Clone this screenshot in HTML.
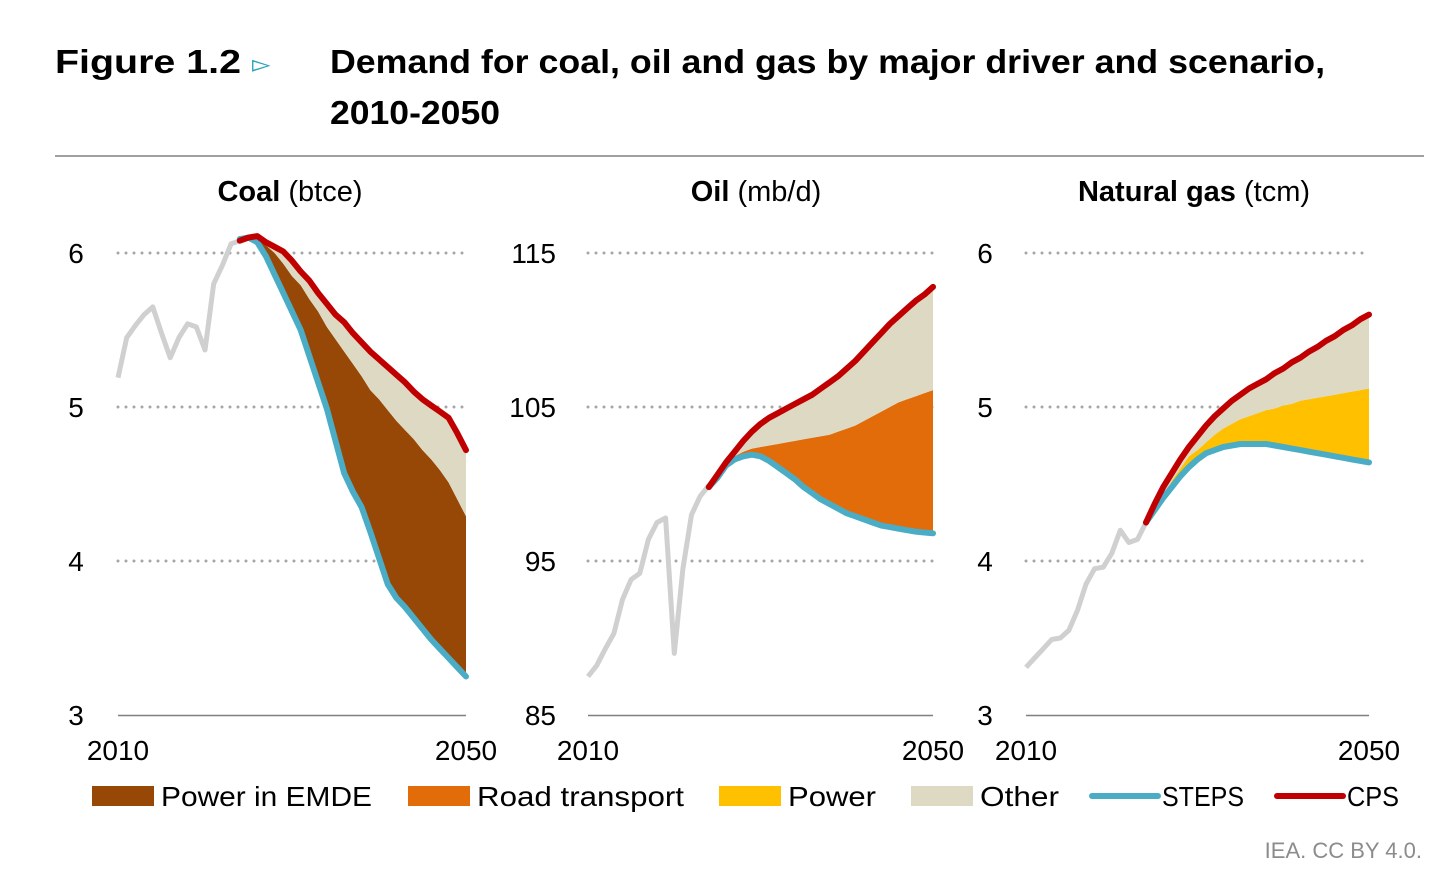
<!DOCTYPE html>
<html><head><meta charset="utf-8"><style>
html,body{margin:0;padding:0;background:#fff;}
svg{display:block;font-family:"Liberation Sans",sans-serif;}
</style></head><body>
<svg id="chart" width="1456" height="889" viewBox="0 0 1456 889">
<text x="55" y="73" font-size="33" font-weight="bold" fill="#000" textLength="186" lengthAdjust="spacingAndGlyphs">Figure 1.2</text>
<text x="252" y="72" font-size="24" fill="#2aa3b8">▻</text>
<text x="330" y="73" font-size="33" font-weight="bold" fill="#000" textLength="995" lengthAdjust="spacingAndGlyphs">Demand for coal, oil and gas by major driver and scenario,</text>
<text x="330" y="124" font-size="33" font-weight="bold" fill="#000" textLength="170" lengthAdjust="spacingAndGlyphs">2010-2050</text>
<line x1="55" y1="156" x2="1424" y2="156" stroke="#808080" stroke-width="1.5"/>
<g id="panels"></g>
<g id="legend"></g>
<text x="1422" y="858" font-size="22" fill="#8c8c8c" text-anchor="end">IEA. CC BY 4.0.</text>
</svg>
<script>
// ---- Data ----
const histYears = [2010,2011,2012,2013,2014,2015,2016,2017,2018,2019,2020,2021,2022,2023,2024];
const projYears = [2024,2025,2026,2027,2028,2029,2030,2031,2032,2033,2034,2035,2036,2037,2038,2039,2040,2041,2042,2043,2044,2045,2046,2047,2048,2049,2050];

const coalHist = [5.19,5.45,5.53,5.60,5.65,5.48,5.32,5.45,5.54,5.52,5.37,5.80,5.92,6.06,6.08];
const coalSteps = [6.09,6.10,6.07,5.98,5.86,5.74,5.62,5.50,5.33,5.16,4.99,4.78,4.57,4.45,4.35,4.19,4.02,3.85,3.76,3.70,3.63,3.56,3.49,3.43,3.37,3.31,3.25];
const coalPowerEmdeTop = [6.09,6.10,6.09,6.05,6.00,5.93,5.85,5.79,5.70,5.62,5.52,5.44,5.36,5.28,5.20,5.11,5.05,4.98,4.91,4.85,4.79,4.72,4.66,4.59,4.51,4.40,4.29];
const coalCps = [6.08,6.10,6.11,6.07,6.04,6.01,5.95,5.88,5.82,5.74,5.67,5.60,5.55,5.48,5.42,5.36,5.31,5.26,5.21,5.16,5.10,5.05,5.01,4.97,4.93,4.83,4.72];

const oilHist = [87.5,88.2,89.3,90.3,92.5,93.8,94.2,96.4,97.5,97.8,89.0,94.5,98.0,99.2,99.9];
const oilSteps = [99.8,100.4,101.2,101.6,101.8,101.9,101.8,101.5,101.1,100.7,100.3,99.8,99.4,99.0,98.7,98.4,98.1,97.9,97.7,97.5,97.3,97.2,97.1,97.0,96.9,96.85,96.8];
const oilRoadTop = [99.8,100.4,101.2,101.8,102.1,102.3,102.4,102.5,102.6,102.7,102.8,102.9,103.0,103.1,103.2,103.4,103.6,103.8,104.1,104.4,104.7,105.0,105.3,105.5,105.7,105.9,106.1];
const oilCps = [99.8,100.6,101.4,102.1,102.8,103.4,103.9,104.3,104.6,104.9,105.2,105.5,105.8,106.2,106.6,107.0,107.5,108.0,108.6,109.2,109.8,110.4,110.9,111.4,111.9,112.3,112.8];

const gasHist = [3.31,3.37,3.43,3.49,3.50,3.55,3.68,3.85,3.95,3.96,4.05,4.20,4.12,4.14,4.25];
const gasSteps = [4.25,4.33,4.41,4.48,4.55,4.61,4.66,4.70,4.72,4.74,4.75,4.76,4.76,4.76,4.76,4.75,4.74,4.73,4.72,4.71,4.70,4.69,4.68,4.67,4.66,4.65,4.64];
const gasPowerTop = [4.25,4.33,4.41,4.52,4.60,4.68,4.72,4.77,4.82,4.86,4.89,4.92,4.94,4.96,4.98,4.99,5.01,5.02,5.04,5.05,5.06,5.07,5.08,5.09,5.10,5.11,5.12];
const gasCps = [4.25,4.37,4.48,4.57,4.66,4.74,4.81,4.88,4.94,4.99,5.04,5.08,5.12,5.15,5.18,5.22,5.25,5.29,5.32,5.36,5.39,5.43,5.46,5.50,5.53,5.57,5.60];

const coalTicks = [3,4,5,6];
const oilTicks = [85,95,105,115];
const gasTicks = [3,4,5,6];
const xTickLabels = ["2010","2050"];

const legendLabels = ["Power in EMDE","Road transport","Power","Other","STEPS","CPS"];

// ---- Drawing ----
const NS = "http://www.w3.org/2000/svg";
function mk(tag, attrs, parent){
  const e = document.createElementNS(NS, tag);
  for (const k in attrs) e.setAttribute(k, attrs[k]);
  parent.appendChild(e);
  return e;
}
const panelsG = document.getElementById('panels');

function drawPanel(p){
  const g = mk('g', {}, panelsG);
  
  
  const x = yr => p.x0 + (yr - 2010) / 40 * (p.x1 - p.x0);
  const y = v => 715 - (v - p.ticks[0]) / (p.ticks[3] - p.ticks[0]) * 462;

  const t = mk('text', {x: p.titleX, y: 201, 'font-size': 29, 'text-anchor': 'middle', fill: '#000'}, g);
  
  
  const b = mk('tspan', {'font-weight': 'bold'}, t); b.textContent = p.titleBold;
  const r = mk('tspan', {}, t); r.textContent = ' ' + p.titleUnit;

  p.ticks.forEach((v, i) => {
    if (i > 0) {
      const gl = mk('line', {x1: p.x0, x2: p.x1, y1: y(v), y2: y(v), stroke: '#a6a6a6', 'stroke-width': 3, 'stroke-dasharray': '0 8', 'stroke-linecap': 'round'}, g);
      
      
    }
    const tl = mk('text', {x: p.tickX, y: y(v) + 10, 'font-size': 28, 'text-anchor': p.tickAnchor, fill: '#000'}, g);
    
    
    tl.textContent = v;
  });
  const ax = mk('line', {x1: p.x0, x2: p.x1, y1: 715.5, y2: 715.5, stroke: '#7f7f7f', 'stroke-width': 1.5}, g);
  
  
  xTickLabels.forEach((lab, i) => {
    const xl = mk('text', {x: i === 0 ? p.x0 : p.x1, y: 760, 'font-size': 28, 'text-anchor': 'middle', fill: '#000'}, g);
    
    
    xl.textContent = lab;
  });

  const pts = (ys, vals) => ys.map((yr, i) => x(yr).toFixed(1) + ',' + y(vals[i]).toFixed(1));
  const band = (lower, upper) => 'M' + pts(projYears, upper).join('L') + 'L' + pts(projYears.slice().reverse(), lower.slice().reverse()).join('L') + 'Z';

  const a1 = mk('path', {d: band(p.steps, p.mid), fill: p.midColor}, g);
  
  
  const a2 = mk('path', {d: band(p.mid, p.cps), fill: '#DDD9C3'}, g);
  
  

  const h = mk('polyline', {points: pts(histYears, p.hist).join(' '), fill: 'none', stroke: '#D0D0D0', 'stroke-width': 5, 'stroke-linejoin': 'round'}, g);
  
  
  const s = mk('polyline', {points: pts(projYears, p.steps).join(' '), fill: 'none', stroke: '#4BACC6', 'stroke-width': 6, 'stroke-linejoin': 'round', 'stroke-linecap': 'round'}, g);
  
  
  const c = mk('polyline', {points: pts(projYears, p.cps).join(' '), fill: 'none', stroke: '#C00000', 'stroke-width': 6, 'stroke-linejoin': 'round', 'stroke-linecap': 'round'}, g);
  
  
}

drawPanel({key:'coal', x0:118, x1:466, ticks:coalTicks, tickX:76, tickAnchor:'middle', titleX:290, titleBold:'Coal', titleUnit:'(btce)',
  hist:coalHist, steps:coalSteps, mid:coalPowerEmdeTop, cps:coalCps, midColor:'#974706', midName:'power-in-emde'});
drawPanel({key:'oil', x0:588, x1:933, ticks:oilTicks, tickX:556, tickAnchor:'end', titleX:756, titleBold:'Oil', titleUnit:'(mb/d)',
  hist:oilHist, steps:oilSteps, mid:oilRoadTop, cps:oilCps, midColor:'#E36C0A', midName:'road-transport'});
drawPanel({key:'gas', x0:1026, x1:1369, ticks:gasTicks, tickX:985, tickAnchor:'middle', titleX:1194, titleBold:'Natural gas', titleUnit:'(tcm)',
  hist:gasHist, steps:gasSteps, mid:gasPowerTop, cps:gasCps, midColor:'#FFC000', midName:'power'});

// legend
const lg = document.getElementById('legend');
const legendColors = ['#974706','#E36C0A','#FFC000','#DDD9C3','#4BACC6','#C00000'];
const legendX = [92,408,719,911,1092,1277];
const legendW = [211,207,88,79,82,52];
legendLabels.forEach((lab, i) => {
  const g = mk('g', {}, lg);
  
  
  const lx = legendX[i];
  let tx;
  if (i < 4) {
    mk('rect', {x: lx, y: 786, width: 62, height: 20, fill: legendColors[i]}, g);
    tx = lx + 69;
  } else {
    mk('line', {x1: lx, x2: lx + 66, y1: 796, y2: 796, stroke: legendColors[i], 'stroke-width': 6, 'stroke-linecap': 'round'}, g);
    tx = lx + 70;
  }
  const t = mk('text', {x: tx, y: 806, 'font-size': 28, fill: '#000', textLength: legendW[i], lengthAdjust: 'spacingAndGlyphs'}, g);
  t.textContent = lab;
});
</script>
</body></html>
